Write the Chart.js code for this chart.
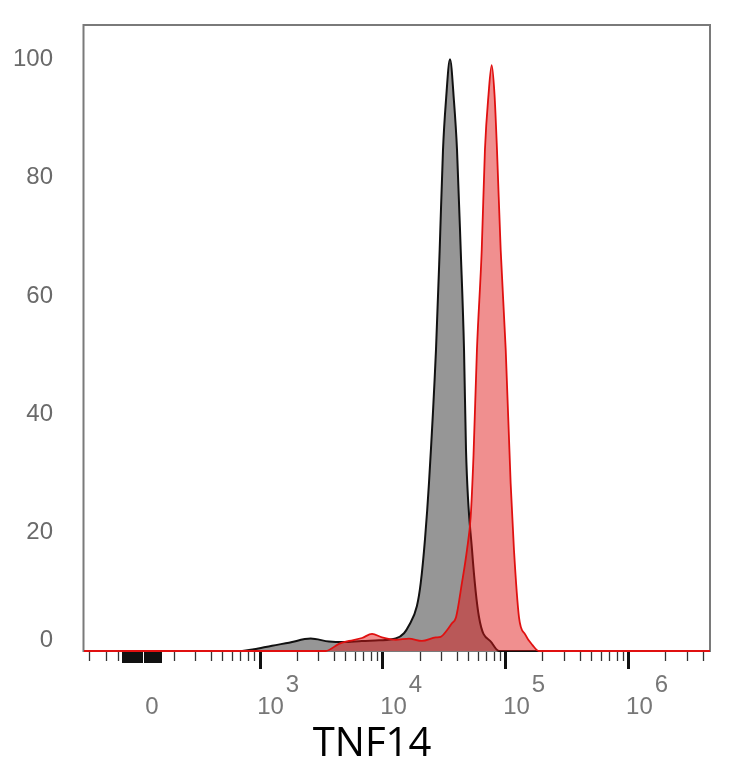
<!DOCTYPE html>
<html><head><meta charset="utf-8">
<script src="https://cdn.jsdelivr.net/npm/chart.js@4.4.1/dist/chart.umd.min.js"></script>
<style>html,body{margin:0;padding:0;background:#fff;}#wrap{width:734px;height:768px;position:relative;}</style>
</head><body><div id="wrap"><canvas id="c"></canvas></div>
<script>
// x values are display positions in decades (log10 of TNF14 intensity), y = % of max
const axisRange = [1.573, 6.663];
const isotypeX = [1.573, 2.858, 2.955, 3.102, 3.240, 3.416, 3.565, 3.687, 3.833, 3.972, 4.107, 4.175, 4.215, 4.280, 4.311, 4.346, 4.378, 4.435, 4.465, 4.492, 4.516, 4.549, 4.581, 4.606, 4.636, 4.663, 4.679, 4.728, 4.785, 4.890, 4.947, 6.663];
const isotypeY = [0, 0, 0.3, 0.9, 1.4, 2.1, 1.6, 1.5, 1.7, 1.8, 2.1, 3.0, 4.3, 7.6, 11.5, 19.0, 28.4, 50.9, 67.8, 84.7, 93, 100, 93, 84.7, 67.8, 50.9, 34, 17.1, 5.7, 1.35, 0, 0];
const tnfX = [1.573, 3.538, 3.646, 3.728, 3.833, 3.915, 3.996, 4.107, 4.215, 4.321, 4.433, 4.473, 4.524, 4.565, 4.598, 4.646, 4.687, 4.717, 4.740, 4.768, 4.807, 4.833, 4.862, 4.888, 4.911, 4.931, 4.961, 5.002, 5.042, 5.069, 5.110, 5.160, 5.220, 5.272, 6.663];
const tnfY = [0, 0, 1.2, 1.7, 2.2, 2.9, 2.3, 1.9, 2.1, 1.7, 2.3, 2.4, 3.5, 4.7, 5.7, 11.5, 17.1, 22.7, 33.0, 50.9, 67.8, 84.7, 94, 99, 94, 84.7, 67.8, 50.9, 28.4, 17.1, 5.7, 2.8, 1.0, 0, 0];
const yTicks = [0, 20, 40, 60, 80, 100];
const yMax = 105.8;
const majorDecades = [3, 4, 5, 6];
const majorExponents = ['3', '4', '5', '6'];
const zeroPos = 2.126;
const zeroLabel = '0';
const negativeTicks = [1.614, 1.748, 1.850];
const minorDecades = [2, 3, 4, 5, 6];
const xTitle = 'TNF14';

const toPts = (xs, ys) => xs.map((x, i) => ({x: x, y: ys[i]}));

const framePlugin = {
  id: 'frame',
  beforeDatasetsDraw(chart) {
    const a = chart.chartArea, ctx = chart.ctx;
    ctx.save();
    ctx.strokeStyle = '#7a7a7a';
    ctx.lineWidth = 2;
    ctx.strokeRect(a.left - 0.5, a.top, a.right - a.left + 0.5, a.bottom - a.top);
    ctx.restore();
  }
};

const xAxisPlugin = {
  id: 'xaxisdeco',
  afterDraw(chart) {
    const s = chart.scales.x, ctx = chart.ctx, a = chart.chartArea;
    const y0 = a.bottom + 1;
    ctx.save();
    const tick = (v, len, w, col) => {
      const p = Math.round(s.getPixelForValue(v)) + 0.5;
      ctx.strokeStyle = col; ctx.lineWidth = w;
      ctx.beginPath(); ctx.moveTo(p, y0); ctx.lineTo(p, y0 + len); ctx.stroke();
    };
    minorDecades.forEach(d => {
      for (let k = 2; k <= 9; k++) {
        const v = d + Math.log10(k);
        if (v > axisRange[0] + 0.02 && v < axisRange[1] - 0.02 && v > zeroPos + 0.15) tick(v, 9, 1.3, '#333');
      }
    });
    negativeTicks.forEach(v => tick(v, 9, 1.3, '#333'));
    for (let v = 1.890; v <= 2.21; v += 0.025) tick(v, 11, 3, '#111');
    majorDecades.forEach(v => tick(v, 17, 3, '#111'));
    ctx.fillStyle = '#777';
    ctx.font = '24px "Liberation Sans", Arial, sans-serif';
    ctx.textAlign = 'center';
    ctx.textBaseline = 'middle';
    ctx.fillText(zeroLabel, s.getPixelForValue(zeroPos), 707);
    majorDecades.forEach((v, i) => {
      const p = s.getPixelForValue(v);
      ctx.fillText('10', p + 11, 707);
      ctx.fillText(majorExponents[i], p + 33, 685);
    });
    ctx.fillStyle = '#000';
    ctx.font = '40px "Open Sans", sans-serif';
    ctx.fillText(xTitle, 372, 745);
    ctx.restore();
  }
};

new Chart(document.getElementById('c'), {
  type: 'line',
  data: {
    datasets: [
      {
        label: 'TNF14',
        data: toPts(tnfX, tnfY),
        borderColor: '#e01010',
        backgroundColor: 'rgba(224,20,20,0.48)',
        borderWidth: 1.8,
        fill: 'origin',
        pointRadius: 0,
        cubicInterpolationMode: 'monotone',
        clip: 3
      },
      {
        label: 'Isotype',
        data: toPts(isotypeX, isotypeY),
        borderColor: '#111',
        backgroundColor: 'rgb(150,150,150)',
        borderWidth: 2,
        fill: 'origin',
        pointRadius: 0,
        cubicInterpolationMode: 'monotone',
        clip: 3
      }
    ]
  },
  options: {
    responsive: true,
    maintainAspectRatio: false,
    animation: false,
    layout: {padding: {top: 25, right: 24, left: 0, bottom: 0}},
    plugins: {legend: {display: false}, tooltip: {enabled: false}},
    scales: {
      x: {
        type: 'linear',
        min: axisRange[0],
        max: axisRange[1],
        grid: {display: false, drawTicks: false},
        border: {display: false},
        ticks: {display: false},
        afterFit(s) { s.height = 117; s.paddingLeft = 0; s.paddingRight = 0; }
      },
      y: {
        type: 'linear',
        min: 0,
        max: yMax,
        grid: {display: false, drawTicks: false},
        border: {display: false},
        afterBuildTicks(s) { s.ticks = yTicks.map(v => ({value: v})); },
        ticks: {
          padding: 31,
          color: '#6a6a6a',
          font: {family: '"Liberation Sans", Arial, sans-serif', size: 24, lineHeight: 0.92},
          callback: v => v === 0 ? ['0', ''] : String(v)
        },
        afterFit(s) { s.width = 84; s.paddingTop = 0; s.paddingBottom = 0; }
      }
    }
  },
  plugins: [framePlugin, xAxisPlugin]
});
</script>
</body></html>
